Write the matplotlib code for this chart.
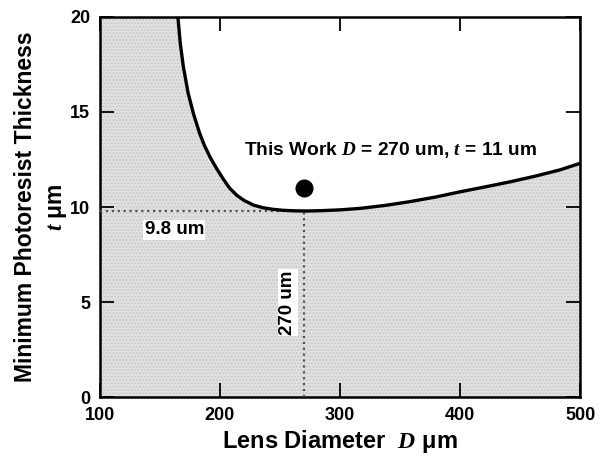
import numpy as np
import matplotlib
matplotlib.use("Agg")
import matplotlib.pyplot as plt

plt.rcParams['font.family'] = ['Liberation Sans', 'DejaVu Sans']
plt.rcParams['font.weight'] = 'bold'
plt.rcParams['mathtext.fontset'] = 'custom'
plt.rcParams['mathtext.it'] = 'Liberation Serif:italic:bold'
plt.rcParams['mathtext.rm'] = 'Liberation Sans:bold'

# minimum thickness curve
diameter = [165, 167, 169.5, 173.5, 178, 183, 187, 192, 197, 203, 208, 214,
            220, 228, 236, 244, 252, 262, 272, 285, 300, 317, 337, 358,
            380, 400, 421, 442, 463, 483, 500]
thickness = [20.0, 18.6, 17.4, 16.0, 14.9, 13.9, 13.25, 12.6, 12.05, 11.45, 11.0, 10.62,
             10.35, 10.1, 9.96, 9.88, 9.83, 9.8, 9.79, 9.81, 9.85, 9.93, 10.08, 10.28,
             10.53, 10.8, 11.06, 11.33, 11.63, 11.95, 12.3]

this_work_D = 270
this_work_t = 11
min_D = 270
min_t = 9.8

x_ticks = [100, 200, 300, 400, 500]
y_ticks = [0, 5, 10, 15, 20]

fig = plt.figure(figsize=(6.05, 4.57), dpi=100)
ax = fig.add_axes([0.165, 0.131, 0.794, 0.832])

ax.set_xlim(100, 500)
ax.set_ylim(0, 20)

# shaded (forbidden) region
poly_x = [100, 100] + diameter + [500]
poly_y = [0, 20] + thickness + [0]
ax.fill(poly_x, poly_y, facecolor='#e2e2e2', edgecolor='#c8c8c8',
        hatch='.....', linewidth=0, zorder=1)

ax.plot(diameter, thickness, color='black', lw=2.4, zorder=4,
        solid_joinstyle='round')

# guide lines at the minimum
ax.plot([100, min_D], [min_t, min_t], color='#555555', lw=1.6, ls=':', zorder=3)
ax.plot([min_D, min_D], [0, min_t], color='#555555', lw=1.6, ls=':', zorder=3)

ax.text(162, 8.8, '9.8 um', fontsize=13.5, fontweight='bold', ha='center',
        va='center', zorder=5,
        bbox=dict(facecolor='white', edgecolor='none', pad=1))
ax.text(256.5, 4.97, '270 um', fontsize=13.5, fontweight='bold', ha='center',
        va='center', rotation=90, zorder=5,
        bbox=dict(facecolor='white', edgecolor='none', pad=1))

ax.plot([this_work_D], [this_work_t], 'o', color='black', ms=12, zorder=6)
ax.text(342, 13.0, 'This Work $D$ = 270 um, $t$ = 11 um', fontsize=13.8,
        fontweight='bold', ha='center', va='center', zorder=6)

ax.set_xticks(x_ticks)
ax.set_yticks(y_ticks)
ax.tick_params(direction='in', length=10, width=1.3, top=True, right=True,
               labelsize=13, pad=7)
for lab in ax.get_xticklabels() + ax.get_yticklabels():
    lab.set_fontweight('bold')
for sp in ax.spines.values():
    sp.set_linewidth(1.8)

ax.set_xlabel('Lens Diameter  $D$ μm', fontsize=17, fontweight='bold', labelpad=3)
ax.set_ylabel('Minimum Photoresist Thickness\n$t$ μm', fontsize=16.5,
              fontweight='bold', labelpad=1, linespacing=1.35)

fig.savefig('out.png', dpi=100)
